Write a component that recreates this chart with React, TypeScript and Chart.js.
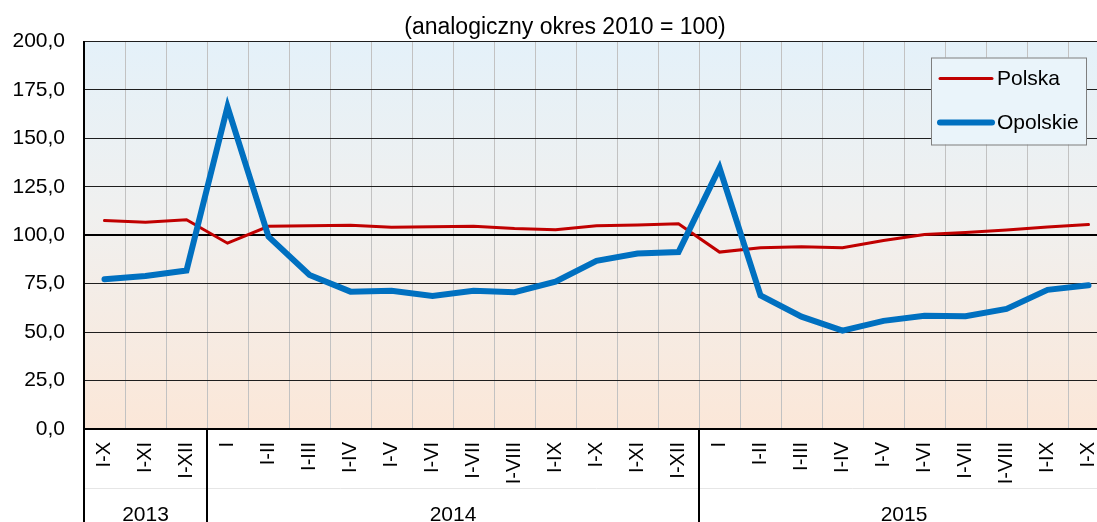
import React, { useEffect, useRef } from "react";
import { Chart, registerables } from "chart.js";

Chart.register(...registerables);

const FONT = "'Liberation Sans', Arial, sans-serif";

const titleText = "(analogiczny okres 2010 = 100)";

const categories = [
  "I-X", "I-XI", "I-XII",
  "I", "I-II", "I-III", "I-IV", "I-V", "I-VI", "I-VII", "I-VIII", "I-IX", "I-X", "I-XI", "I-XII",
  "I", "I-II", "I-III", "I-IV", "I-V", "I-VI", "I-VII", "I-VIII", "I-IX", "I-X",
];

const yearLabels = ["2013", "2014", "2015"];
const yearSpans = [3, 12, 10];

const polska = [
  107.6, 106.7, 108.0,
  95.9, 104.6, 104.9, 105.1, 104.1, 104.4, 104.7, 103.5, 102.8, 104.9, 105.3, 105.9,
  91.3, 93.6, 94.0, 93.6, 97.3, 100.4, 101.4, 102.7, 104.2, 105.5,
];

const opolskie = [
  77.3, 79.0, 81.8,
  166.3, 99.3, 79.5, 70.9, 71.4, 68.7, 71.4, 70.6, 76.0, 86.8, 90.6, 91.3,
  134.8, 68.9, 58.0, 50.8, 55.8, 58.4, 58.2, 62.0, 71.8, 74.2,
];

const seriesNames = ["Polska", "Opolskie"];
const seriesColors = ["#c00000", "#0070c0"];
const seriesWidths = [3, 6];

const yTicks = { min: 0, max: 200, step: 25 };

const bgPlugin = {
  id: "bgGradient",
  beforeDraw(chart: any) {
    const { ctx, chartArea: a } = chart;
    const g = ctx.createLinearGradient(0, a.top, 0, a.bottom);
    g.addColorStop(0, "#e4f1f9");
    g.addColorStop(0.45, "#f0f0ef");
    g.addColorStop(1, "#fbe7d8");
    ctx.save();
    ctx.fillStyle = g;
    ctx.fillRect(a.left, a.top, a.right - a.left, a.bottom - a.top);
    ctx.restore();
  },
};

const overlayPlugin = {
  id: "overlay",
  afterDraw(chart: any) {
    const { ctx, chartArea: a } = chart;
    const xs = chart.scales.x;
    ctx.save();

    // title
    ctx.fillStyle = "#000";
    ctx.font = `23px ${FONT}`;
    ctx.textAlign = "center";
    ctx.textBaseline = "alphabetic";
    ctx.fillText(titleText, chart.width / 2, a.top - 8);

    // faint row separator in the label area
    ctx.strokeStyle = "#e6e6e6";
    ctx.lineWidth = 1;
    ctx.beginPath();
    ctx.moveTo(a.left, a.bottom + 59.5);
    ctx.lineTo(a.right, a.bottom + 59.5);
    ctx.stroke();

    // year groups
    let start = 0;
    ctx.strokeStyle = "#000";
    ctx.lineWidth = 2;
    ctx.font = `21px ${FONT}`;
    yearLabels.forEach((lab, i) => {
      const end = start + yearSpans[i];
      const x0 = xs.getPixelForValue(start - 0.5);
      const x1 = xs.getPixelForValue(end - 0.5);
      ctx.beginPath();
      ctx.moveTo(x0, a.bottom);
      ctx.lineTo(x0, chart.height);
      ctx.stroke();
      ctx.fillText(lab, (x0 + x1) / 2, a.bottom + 92);
      start = end;
    });

    // legend
    const bx = a.right - 178;
    const by = a.top + 16;
    const bw = 155;
    const bh = 87;
    ctx.fillStyle = "#eaf4fa";
    ctx.fillRect(bx, by, bw, bh);
    ctx.strokeStyle = "#7f7f7f";
    ctx.lineWidth = 1;
    ctx.strokeRect(bx + 0.5, by + 0.5, bw, bh);
    const rows = [by + 21, by + 65];
    seriesNames.forEach((name, i) => {
      ctx.strokeStyle = seriesColors[i];
      ctx.lineWidth = seriesWidths[i];
      ctx.lineCap = "round";
      ctx.beginPath();
      ctx.moveTo(bx + 9, rows[i]);
      ctx.lineTo(bx + 61, rows[i]);
      ctx.stroke();
      ctx.fillStyle = "#000";
      ctx.font = `21px ${FONT}`;
      ctx.textAlign = "left";
      ctx.textBaseline = "middle";
      ctx.fillText(name, bx + 66, rows[i] + 1);
    });

    ctx.restore();
  },
};

export default function App() {
  const ref = useRef<HTMLCanvasElement>(null);

  useEffect(() => {
    if (!ref.current) return;
    Chart.defaults.font.family = FONT;
    const chart = new Chart(ref.current, {
      type: "line",
      data: {
        labels: categories,
        datasets: [
          {
            label: seriesNames[0],
            data: polska,
            borderColor: seriesColors[0],
            backgroundColor: seriesColors[0],
            borderWidth: seriesWidths[0],
            pointRadius: 0,
            tension: 0,
            borderCapStyle: "round",
            order: 2,
          },
          {
            label: seriesNames[1],
            data: opolskie,
            borderColor: seriesColors[1],
            backgroundColor: seriesColors[1],
            borderWidth: seriesWidths[1],
            pointRadius: 0,
            tension: 0,
            borderCapStyle: "round",
            order: 1,
          },
        ],
      },
      options: {
        responsive: false,
        animation: false,
        devicePixelRatio: 1,
        layout: { padding: { left: 0, right: 21, top: 41.5, bottom: 0 } },
        plugins: {
          legend: { display: false },
          title: { display: false },
          tooltip: { enabled: false },
        },
        scales: {
          x: {
            type: "category",
            offset: true,
            afterFit: (s: any) => {
              s.height = 93;
            },
            grid: {
              offset: true,
              color: "#c2c2c2",
              lineWidth: 1,
              drawTicks: false,
            },
            border: { display: true, color: "#000", width: 2 },
            ticks: {
              autoSkip: false,
              maxRotation: 90,
              minRotation: 90,
              padding: 13,
              color: "#000",
              font: { size: 20, family: FONT },
            },
          },
          y: {
            min: yTicks.min,
            max: yTicks.max,
            afterFit: (s: any) => {
              s.width = 84;
            },
            grid: {
              color: (c: any) => (c.tick && c.tick.value === 100 ? "#000" : "#1e1e1e"),
              lineWidth: (c: any) => (c.tick && c.tick.value === 100 ? 2 : 1),
              drawTicks: false,
            },
            border: { display: true, color: "#000", width: 2 },
            ticks: {
              stepSize: yTicks.step,
              padding: 19,
              color: "#000",
              font: { size: 21, family: FONT },
              callback: (v: any) => Number(v).toFixed(1).replace(".", ","),
            },
          },
        },
      },
      plugins: [bgPlugin, overlayPlugin],
    });
    return () => chart.destroy();
  }, []);

  return (
    <div
      style={{
        position: "fixed",
        left: 0,
        top: 0,
        width: 1097,
        height: 522,
        overflow: "hidden",
        background: "#fff",
      }}
    >
      <canvas ref={ref} width={1130} height={522} style={{ display: "block", width: 1130, height: 522 }} />
    </div>
  );
}
